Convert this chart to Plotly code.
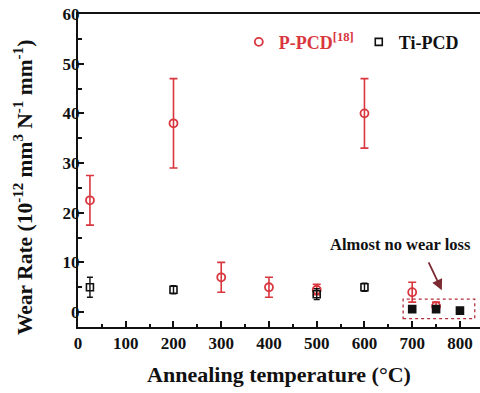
import plotly.graph_objects as go

# P-PCD [18]
p_temp = [25, 200, 300, 400, 500, 600, 700, 750]
p_rate = [22.5, 38, 7, 5, 4.5, 40, 4, 1.2]
p_err_plus = [5, 9, 3, 2, 1.1, 7, 2, 0.8]
p_err_minus = [5, 9, 3, 2, 1.0, 7, 2, 0.7]

# Ti-PCD
t_temp = [25, 200, 500, 600, 700, 750, 800]
t_rate = [5, 4.5, 3.6, 5, 0.6, 0.6, 0.3]
t_err = [2, 0.8, 1.1, 0.8, 0.2, 0.2, 0.1]
t_filled = [False, False, False, False, True, True, True]

x_ticks = [0, 100, 200, 300, 400, 500, 600, 700, 800]
y_ticks = [0, 10, 20, 30, 40, 50, 60]

red = "#d9363e"
font_family = "Liberation Serif"

fig = go.Figure()
fig.add_trace(go.Scatter(
    x=p_temp, y=p_rate, mode="markers",
    name="<b><span style='color:%s'>P-PCD<sup>[18]</sup></span></b>" % red,
    marker=dict(symbol="circle-open", size=8, color=red, line=dict(width=1.8, color=red)),
    error_y=dict(type="data", array=p_err_plus, arrayminus=p_err_minus, symmetric=False,
                 color=red, thickness=1.6, width=4),
))
fig.add_trace(go.Scatter(
    x=t_temp, y=t_rate, mode="markers", name="<b>Ti-PCD</b>",
    marker=dict(symbol=["square" if f else "square-open" for f in t_filled], size=7,
                color="#111111", line=dict(width=1.6, color="#111111")),
    error_y=dict(type="data", array=t_err, color="#111111", thickness=1.4, width=3),
))

# dotted highlight box and annotation
fig.add_shape(type="rect", x0=681, x1=831, y0=-1.3, y1=2.6, xref="x", yref="y",
              line=dict(color="#b0303a", width=1.3, dash="dot"))
fig.add_annotation(x=676, y=13.6, xref="x", yref="y",
                   text="<b>Almost no wear loss</b>", showarrow=False,
                   font=dict(family=font_family, size=16.5, color="#111111"))
fig.add_annotation(x=762, y=4.4, ax=733, ay=10.3, xref="x", yref="y", axref="x", ayref="y",
                   text="", showarrow=True, arrowhead=2, arrowsize=1.2, arrowwidth=1.8,
                   arrowcolor="#7a2a30")

# y-axis title as rotated text
fig.add_annotation(x=-0.137, y=0.447, xref="paper", yref="paper", textangle=-90,
                   text="<b>Wear Rate (10<sup>-12</sup> mm<sup>3</sup> N<sup>-1</sup> mm<sup>-1</sup>)</b>",
                   showarrow=False, xanchor="center", yanchor="middle",
                   font=dict(family=font_family, size=21.5, color="#111111"))

axis_common = dict(
    showline=True, linecolor="#111111", linewidth=2, ticks="inside", ticklen=6,
    tickwidth=2, tickcolor="#111111", showgrid=False, zeroline=False,
    tickfont=dict(family=font_family, size=17, color="#111111"),
)

fig.update_xaxes(
    **axis_common, range=[0, 842], tickvals=x_ticks,
    ticktext=["<b>%d</b>" % v for v in x_ticks],
    mirror=True,
    minor=dict(tickvals=[50, 150, 250, 350, 450, 550, 650, 750], ticks="inside", ticklen=3.5,
               tickwidth=2, tickcolor="#111111"),
    title=dict(text="<b>Annealing temperature (°C)</b>",
               font=dict(family=font_family, size=22, color="#111111"), standoff=14),
)
fig.update_yaxes(
    **axis_common, range=[-3, 60], tickvals=y_ticks,
    ticktext=["<b>%d</b>" % v for v in y_ticks],
    mirror=False, ticklabelstandoff=-7,
    minor=dict(tickvals=[5, 15, 25, 35, 45, 55], ticks="inside", ticklen=3.5,
               tickwidth=2, tickcolor="#111111"),
)

fig.update_layout(
    width=480, height=393, margin=dict(l=78, r=0, t=14, b=66),
    paper_bgcolor="white", plot_bgcolor="white",
    showlegend=True,
    legend=dict(orientation="h", x=0.4, y=0.91, xanchor="left", yanchor="middle",
                bgcolor="rgba(0,0,0,0)", font=dict(family=font_family, size=18, color="#111111"),
                itemwidth=30),
)

fig.write_html("out.html")
